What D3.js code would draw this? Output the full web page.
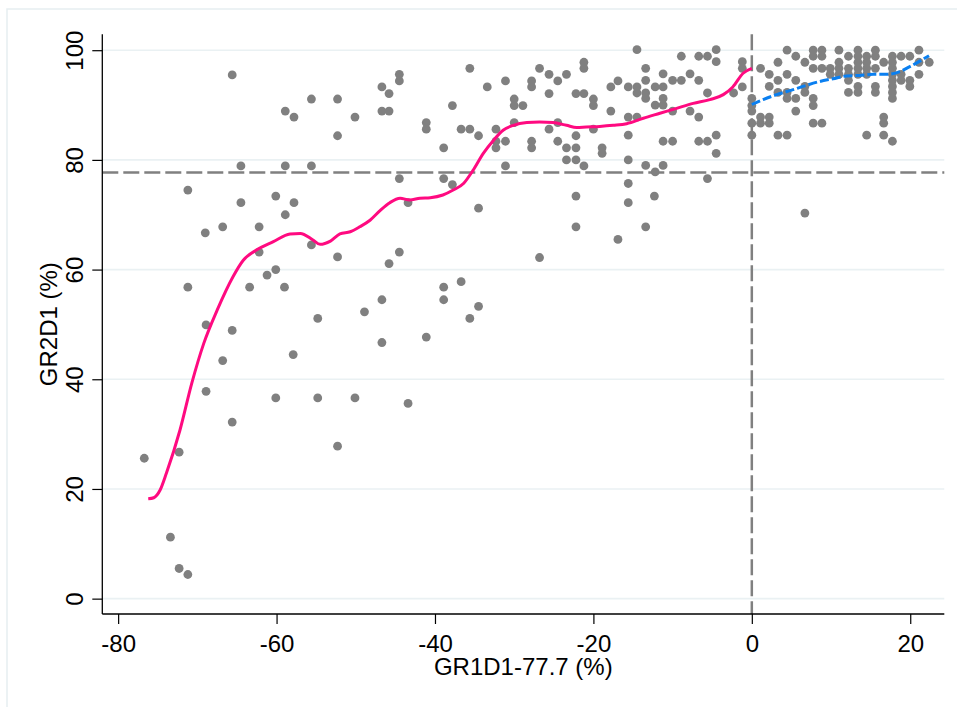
<!DOCTYPE html>
<meta charset="utf-8">
<html>
<head>
<style>
  body { margin: 0; background: #fff; }
  svg { display: block; font-family: "Liberation Sans", Arial, Helvetica, sans-serif; }
  .tick text { font-size: 24px; fill: #000; }
</style>
</head>
<script src="https://d3js.org/d3.v7.min.js"></script>
<body>
<div id="vis"></div>
<script>
  // observations left of the cutoff (GR1D1 below 77.7)
  var ptsBelow = [
    [-65.6,95.5],[-46.7,93.3],[-45.8,92.1],[-55.6,91.1],[-52.3,91.1],[-58.9,88.9],[-57.8,87.8],[-50.1,87.8],
    [-46.7,88.9],[-45.8,88.9],[-52.3,84.4],[-64.5,78.9],[-58.9,78.9],[-55.6,78.9],[-71.2,74.5],[-64.5,72.2],
    [-60.1,73.4],[-57.8,72.2],[-58.9,70.0],[-69.0,66.7],[-66.8,67.8],[-62.2,67.8],[-62.2,63.2],[-55.6,64.5],
    [-52.3,62.3],[-45.8,61.1],[-61.2,59.0],[-60.1,60.0],[-71.2,56.8],[-63.4,56.8],[-59.0,56.8],[-68.9,49.9],
    [-65.6,48.9],[-54.8,51.1],[-66.8,43.4],[-57.9,44.5],[-68.9,37.8],[-60.1,36.6],[-54.8,36.6],[-65.6,32.2],
    [-76.7,25.6],[-72.3,26.7],[-73.4,11.2],[-72.3,5.5],[-71.2,4.4],[-44.5,63.2],[-26.8,62.2],[-22.2,67.8],
    [-16.9,65.5],[-36.7,57.8],[-38.9,56.8],[-38.9,54.5],[-46.7,54.5],[-48.9,52.3],[-34.5,53.3],[-35.6,51.1],
    [-46.7,46.7],[-41.1,47.7],[-50.1,36.6],[-43.4,35.6],[-52.3,27.8],[-44.5,95.6],[-44.5,94.4],[-44.5,76.6],
    [-41.1,86.8],[-41.1,85.6],[-38.9,82.2],[-37.8,89.9],[-35.6,96.7],[-36.7,85.6],[-35.6,85.6],[-34.5,84.4],
    [-38.9,76.6],[-37.8,75.5],[-43.4,72.2],[-34.5,71.2],[-33.4,93.3],[-32.3,85.6],[-32.3,83.4],[-32.3,82.2],
    [-31.1,83.4],[-31.1,94.4],[-31.1,78.9],[-30.0,91.1],[-30.0,89.9],[-28.9,89.9],[-30.0,86.8],[-27.8,94.4],
    [-27.8,93.3],[-27.8,83.4],[-27.8,82.2],[-26.8,96.7],[-25.6,95.6],[-24.5,94.4],[-23.4,95.6],[-25.6,92.1],
    [-25.6,85.6],[-24.5,86.8],[-24.5,83.4],[-23.4,82.2],[-23.4,80.0],[-22.2,92.1],[-22.2,84.4],[-22.2,82.2],
    [-22.2,80.0],[-21.2,97.8],[-21.2,96.7],[-21.2,92.1],[-21.2,78.9],[-22.2,73.4],[-20.0,91.1],[-20.0,89.9],
    [-20.0,85.6],[-18.9,82.2],[-18.9,81.2],[-17.8,93.3],[-17.8,88.9],[-16.9,94.4],[-14.5,100.1],[-8.9,98.9],
    [-6.7,98.9],[-5.6,98.9],[-4.5,100.1],[-4.5,97.9],[-1.2,97.9],[-1.2,96.7],[-13.4,96.7],[-11.2,95.7],
    [-7.8,95.7],[-13.4,94.5],[-10.0,94.5],[-8.9,94.5],[-6.7,94.5],[-15.6,93.3],[-14.5,93.3],[-12.2,93.3],
    [-11.2,93.3],[-14.5,92.2],[-13.4,92.2],[-13.4,91.2],[-11.2,91.2],[-5.6,92.2],[-2.3,92.2],[-1.2,93.3],
    [-12.2,90.0],[-11.2,90.0],[-10.0,88.9],[-7.8,88.9],[-15.6,87.8],[-14.5,87.8],[-6.7,87.8],[-15.6,84.5],
    [-4.5,84.5],[-11.2,83.4],[-10.0,83.4],[-6.7,83.4],[-5.6,83.4],[-4.5,81.2],[-15.6,80.0],[-13.4,79.0],
    [-12.2,77.8],[-11.2,79.0],[-5.6,76.6],[-15.6,75.7],[-15.6,72.2],[-12.3,73.4],[-13.4,67.8]
  ];

  // observations at or above the cutoff
  var ptsAbove = [
    [4.45,100.0],[7.75,100.0],[8.85,100.0],[11.0,100.0],[13.4,100.0],[15.6,100.0],[21.1,100.0],
    [5.55,98.9],[7.75,98.9],[8.85,98.9],[12.2,98.9],[13.4,98.9],[14.5,98.9],[15.6,98.9],[17.75,98.9],[18.85,98.9],[19.95,98.9],
    [3.3,97.8],[6.7,97.8],[11.0,97.8],[13.4,97.8],[14.5,97.8],[16.65,97.8],[17.75,97.8],[21.1,97.8],[22.4,97.8],
    [1.1,96.7],[7.75,96.7],[8.85,96.7],[9.9,96.7],[11.0,96.7],[12.2,96.7],[13.4,96.7],[14.5,96.7],[15.6,96.7],[17.75,96.7],
    [2.2,95.6],[4.45,95.6],[9.9,95.6],[11.0,95.6],[12.2,95.6],[13.4,95.6],[14.5,95.6],[17.75,95.6],[18.85,95.6],[21.1,95.6],
    [3.3,94.5],[5.55,94.5],[12.2,94.5],[17.75,94.5],[18.85,94.5],[19.95,94.5],
    [2.2,93.4],[6.7,93.4],[13.4,93.4],[15.6,93.4],[17.75,93.4],[19.95,93.4],
    [3.3,92.3],[4.45,92.3],[6.7,92.3],[12.2,92.3],[13.4,92.3],[15.6,92.3],[17.75,92.3],
    [0,91.2],[4.45,91.2],[5.55,91.2],[7.75,91.2],[17.75,91.2],
    [0,89.9],[7.75,89.9],[0,88.9],[5.55,88.9],
    [1.1,87.8],[2.2,87.8],[16.65,87.8],
    [0,86.7],[1.1,86.7],[2.2,86.7],[7.75,86.7],[8.85,86.7],[16.65,86.7],
    [0,84.5],[3.3,84.5],[4.45,84.5],[14.5,84.5],[16.65,84.5],
    [17.75,83.4],[6.7,70.3]
  ];

  // local smooth, below cutoff
  var fitBelowX = [-76.2,-75.5,-74.7,-73.9,-72.2,-70.7,-69.2,-67.5,-65.5,-64.2,-62.5,-60.4,-58.3,-57.0,-55.4,-54.5,
    -53.2,-52.0,-50.7,-49.5,-48.2,-46.9,-45.7,-44.4,-43.2,-41.9,-40.6,-39.0,-37.7,-36.4,-35.2,-33.9,-32.6,-31.4,
    -30.1,-28.4,-26.8,-25.1,-23.4,-22.1,-20.9,-19.2,-17.5,-15.8,-13.7,-11.6,-9.5,-7.4,-5.3,-3.6,-2.4,-1.1,0];
  var fitBelowY = [18.2,18.4,19.8,22.9,30.7,39.3,46.5,52.6,58.7,61.7,63.6,65.1,66.5,66.6,65.4,64.6,
    65.2,66.5,66.9,67.8,69.0,70.8,72.2,73.0,72.7,73.0,73.1,73.6,74.5,75.7,78.1,81.2,83.6,85.4,
    86.3,86.8,86.9,86.8,86.3,85.9,86.0,86.1,86.3,86.6,87.6,88.5,89.4,90.3,91.0,91.9,93.3,95.8,96.7];

  // local smooth, above cutoff
  var fitAboveX = [0,1.43,3.12,5.21,6.9,8.58,10.26,11.95,13.63,15.31,17.0,18.68,19.94,21.2,22.37];
  var fitAboveY = [90.1,91.0,91.9,92.8,93.6,94.3,94.8,95.3,95.4,95.6,95.6,96.1,97.0,98.0,99.0];

  var xTicks = [-80, -60, -40, -20, 0, 20];
  var yTicks = [0, 20, 40, 60, 80, 100];
  var cutX = 0, cutY = 77.7;

  var margin = {top: 34.3, right: 12.7, bottom: 93, left: 102.3},
      width = 957 - margin.left - margin.right,
      height = 707 - margin.top - margin.bottom;

  var x = d3.scaleLinear().domain([-82, 24.3]).range([0, width]);
  var y = d3.scaleLinear().domain([-2.8, 102.9]).range([height, 0]);

  // plain hyphen for negatives, like the original output
  var fmt = function(d) { return String(d); };

  var root = d3.select("#vis").append("svg")
    .attr("width", 957)
    .attr("height", 707);

  // faint outer frame
  root.append("rect")
    .attr("x", 7).attr("y", 9)
    .attr("width", 970).attr("height", 720)
    .style("fill", "none")
    .style("stroke", "#e6eef1")
    .style("stroke-width", 1.5);

  var svg = root.append("g")
    .attr("transform", "translate(" + margin.left + "," + margin.top + ")");

  // horizontal grid
  svg.selectAll(".grid")
    .data(yTicks)
    .enter().append("line")
    .attr("class", "grid")
    .attr("x1", 0).attr("x2", width)
    .attr("y1", function(d) { return y(d); })
    .attr("y2", function(d) { return y(d); })
    .style("stroke", "#eaf1f3")
    .style("stroke-width", 1.6);

  // cutoff reference lines
  svg.append("line")
    .attr("x1", 0).attr("x2", width)
    .attr("y1", y(cutY)).attr("y2", y(cutY))
    .style("stroke", "#808080").style("stroke-width", 2.5)
    .style("stroke-dasharray", "16,5");
  svg.append("line")
    .attr("x1", x(cutX)).attr("x2", x(cutX))
    .attr("y1", 0).attr("y2", height)
    .style("stroke", "#808080").style("stroke-width", 2.5)
    .style("stroke-dasharray", "16,5");

  // scatter
  svg.selectAll(".dot")
    .data(ptsBelow.concat(ptsAbove))
    .enter().append("circle")
    .attr("class", "dot")
    .attr("r", 4.4)
    .attr("cx", function(d) { return x(d[0]); })
    .attr("cy", function(d) { return y(d[1]); })
    .style("fill", "#808080");

  var line = d3.line()
    .x(function(d) { return x(d[0]); })
    .y(function(d) { return y(d[1]); })
    .curve(d3.curveMonotoneX);

  svg.append("path")
    .datum(d3.zip(fitBelowX, fitBelowY))
    .attr("d", line)
    .style("fill", "none")
    .style("stroke", "#ff0a80")
    .style("stroke-width", 3);

  svg.append("path")
    .datum(d3.zip(fitAboveX, fitAboveY))
    .attr("d", line)
    .style("fill", "none")
    .style("stroke", "#0a7ff0")
    .style("stroke-width", 3)
    .style("stroke-dasharray", "9,3");

  // axes
  var xAxis = svg.append("g")
    .attr("transform", "translate(0," + height + ")")
    .call(d3.axisBottom(x).tickValues(xTicks).tickSize(10).tickFormat(fmt));
  var yAxis = svg.append("g")
    .call(d3.axisLeft(y).tickValues(yTicks).tickSize(10).tickFormat(fmt));

  [xAxis, yAxis].forEach(function(a) {
    a.select(".domain").attr("d", null);
    a.selectAll(".tick line").style("stroke", "#000").style("stroke-width", 1.2);
  });
  xAxis.append("line").attr("x1", 0).attr("x2", width).style("stroke", "#000").style("stroke-width", 1.3);
  yAxis.append("line").attr("y1", 0).attr("y2", height).style("stroke", "#000").style("stroke-width", 1.3);

  xAxis.selectAll(".tick text")
    .attr("dy", null)
    .attr("y", 37.7);

  yAxis.selectAll(".tick text")
    .attr("x", null).attr("dy", null)
    .attr("text-anchor", "middle")
    .attr("transform", "translate(-19.6,0) rotate(-90)");

  // axis titles
  root.append("text")
    .attr("x", margin.left + width / 2)
    .attr("y", 675)
    .attr("text-anchor", "middle")
    .style("font-size", "24px")
    .text("GR1D1-77.7 (%)");

  root.append("text")
    .attr("transform", "translate(56.5," + (margin.top + height / 2) + ") rotate(-90)")
    .attr("text-anchor", "middle")
    .style("font-size", "24px")
    .text("GR2D1 (%)");
</script>
</body>
</html>
